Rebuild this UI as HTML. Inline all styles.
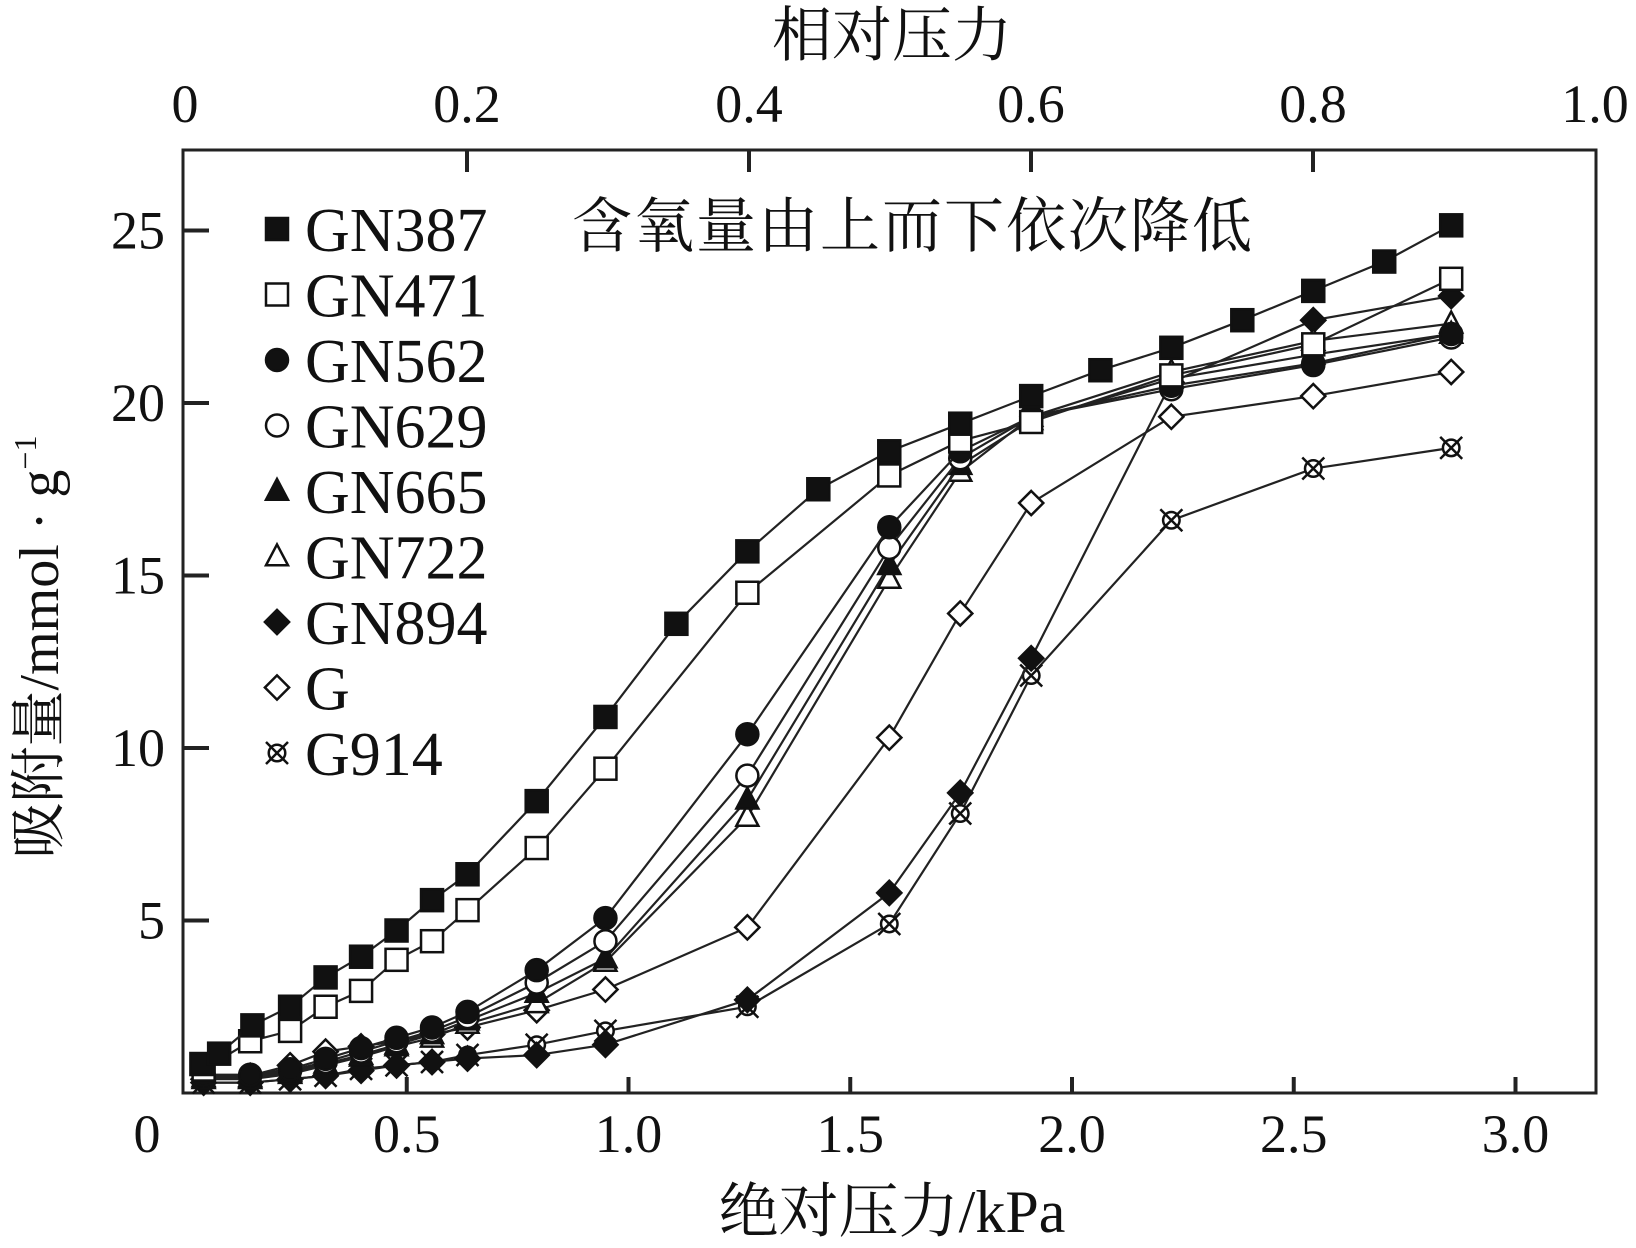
<!DOCTYPE html>
<html><head><meta charset="utf-8">
<style>
html,body{margin:0;padding:0;background:#fff;}
svg{display:block;}
text{font-family:"Liberation Serif","Noto Serif CJK SC",serif;fill:#111;}
.cjk{font-family:"Liberation Serif","Noto Serif CJK SC","Noto Sans CJK SC",serif;}
</style></head>
<body>
<svg id="chart" width="1636" height="1248" viewBox="0 0 1636 1248" xmlns="http://www.w3.org/2000/svg">
<rect x="183" y="150" width="1413" height="943" fill="none" stroke="#222" stroke-width="3"/>
<g id="axes"></g>
<g id="series"></g>
<g id="legend"></g>
<text x="892" y="56" font-size="60" text-anchor="middle" class="cjk">相对压力</text>
<text x="892" y="1232" font-size="60" text-anchor="middle" class="cjk">绝对压力/kPa</text>
<text transform="translate(58,647) rotate(-90)" font-size="56" text-anchor="middle" class="cjk">吸附量/mmol · g<tspan dy="-22" font-size="32">−1</tspan></text>
<text x="572" y="247" font-size="60" letter-spacing="2" class="cjk">含氧量由上而下依次降低</text>
</svg>
<script>
const xTicks=[0.5,1.0,1.5,2.0,2.5,3.0];
const xTickLabels=["0.5","1.0","1.5","2.0","2.5","3.0"];
const yTicks=[5,10,15,20,25];
const yTickLabels=["5","10","15","20","25"];
const topTicks=[0.2,0.4,0.6,0.8];
const topTickLabels=["0","0.2","0.4","0.6","0.8","1.0"];
const topTickLabelVals=[0,0.2,0.4,0.6,0.8,1.0];
const seriesNames=["GN387","GN471","GN562","GN629","GN665","GN722","GN894","G","G914"];
const markerTypes=["sqf","sqo","cf","co","tf","to","df","do","x"];
const x387=[0.037,0.077,0.152,0.237,0.317,0.397,0.477,0.557,0.637,0.793,0.948,1.108,1.268,1.428,1.588,1.748,1.908,2.064,2.224,2.384,2.544,2.704,2.855];
const y387=[0.84,1.14,1.96,2.5,3.35,3.95,4.71,5.59,6.34,8.46,10.9,13.6,15.7,17.5,18.6,19.4,20.2,20.95,21.6,22.4,23.25,24.1,25.15];
const xGrid=[0.042,0.147,0.237,0.317,0.397,0.477,0.557,0.637,0.793,0.948,1.268,1.588,1.748,1.908,2.224,2.544,2.855];
const y471=[0.68,1.5,1.8,2.5,2.96,3.86,4.4,5.3,7.1,9.4,14.5,17.9,18.9,19.45,20.8,21.7,23.6];
const y562=[0.53,0.53,0.69,0.99,1.3,1.6,1.9,2.35,3.56,5.07,10.4,16.4,18.6,19.6,20.5,21.15,22.0];
const y629=[0.5,0.5,0.65,0.9,1.2,1.5,1.8,2.2,3.2,4.4,9.2,15.8,18.4,19.6,20.4,21.1,21.9];
const y665=[0.45,0.45,0.6,0.85,1.1,1.4,1.7,2.1,2.9,3.9,8.5,15.3,18.2,19.5,20.7,21.4,22.0];
const y722=[0.4,0.4,0.55,0.8,1.05,1.35,1.6,2.0,2.6,3.8,8.0,14.9,18.0,19.6,20.9,21.8,22.3];
const y894=[0.3,0.3,0.4,0.5,0.65,0.8,0.9,1.0,1.1,1.4,2.7,5.8,8.7,12.6,20.6,22.4,23.1];
const yG=[0.4,0.5,0.8,1.2,1.35,1.5,1.7,1.9,2.4,3.0,4.8,10.3,13.9,17.1,19.6,20.2,20.9];
const y914=[0.3,0.3,0.4,0.5,0.7,0.8,0.9,1.1,1.4,1.8,2.5,4.9,8.1,12.1,16.6,18.1,18.7];

const NS="http://www.w3.org/2000/svg";
const X0=185,XS=443.5,Y0=1093,YS=34.5,TX0=185,TXS=1410,TOP=150,BOT=1093,LEFT=183;
const sx=v=>X0+v*XS, sy=v=>Y0-v*YS, stx=v=>TX0+v*TXS;
function el(tag,attrs,parent){const e=document.createElementNS(NS,tag);for(const k in attrs)e.setAttribute(k,attrs[k]);parent.appendChild(e);return e;}
const axes=document.getElementById('axes');
xTicks.forEach((v,i)=>{
  const t=el('line',{x1:sx(v),x2:sx(v),y1:BOT,y2:BOT-16,stroke:'#222','stroke-width':4},axes);
  
  
  const l=el('text',{x:sx(v),y:1152,'font-size':54,'text-anchor':'middle'},axes);
  l.textContent=xTickLabels[i];
  
  
});
const z=el('text',{x:147,y:1152,'font-size':54,'text-anchor':'middle'},axes);
z.textContent="0";


yTicks.forEach((v,i)=>{
  const t=el('line',{x1:LEFT,x2:LEFT+26,y1:sy(v),y2:sy(v),stroke:'#222','stroke-width':4},axes);
  
  
  const l=el('text',{x:165,y:sy(v)+18,'font-size':54,'text-anchor':'end'},axes);
  l.textContent=yTickLabels[i];
  
  
});
topTicks.forEach(v=>{
  const t=el('line',{x1:stx(v),x2:stx(v),y1:TOP,y2:TOP+22,stroke:'#222','stroke-width':4},axes);
  
  
});
topTickLabelVals.forEach((v,i)=>{
  const l=el('text',{x:stx(v),y:122,'font-size':54,'text-anchor':'middle'},axes);
  l.textContent=topTickLabels[i];
  
  
});
function marker(type,cx,cy,g,s){
  s=s||12;
  const fill=type.endsWith('f')?'#111':'#fff';
  let m;
  if(type.startsWith('sq')) m=el('rect',{x:cx-s,y:cy-s,width:2*s,height:2*s,fill:fill,stroke:'#111','stroke-width':2.5},g);
  else if(type.startsWith('c')) m=el('circle',{cx:cx,cy:cy,r:s,fill:fill,stroke:'#111','stroke-width':2.5},g);
  else if(type.startsWith('t')) m=el('polygon',{points:`${cx},${cy-s*1.1} ${cx+s},${cy+s*0.8} ${cx-s},${cy+s*0.8}`,fill:fill,stroke:'#111','stroke-width':2.5},g);
  else if(type.startsWith('d')) m=el('polygon',{points:`${cx},${cy-s*1.1} ${cx+s*1.1},${cy} ${cx},${cy+s*1.1} ${cx-s*1.1},${cy}`,fill:fill,stroke:'#111','stroke-width':2.5},g);
  else { m=el('g',{},g);
    el('circle',{cx:cx,cy:cy,r:s*0.75,fill:'#fff',stroke:'#111','stroke-width':2.5},m);
    el('path',{d:`M${cx-s} ${cy-s}L${cx+s} ${cy+s}M${cx+s} ${cy-s}L${cx-s} ${cy+s}`,stroke:'#111','stroke-width':2.5},m);
  }
  return m;
}
const allX=[x387,xGrid,xGrid,xGrid,xGrid,xGrid,xGrid,xGrid,xGrid];
const allY=[y387,y471,y562,y629,y665,y722,y894,yG,y914];
const sg=document.getElementById('series');
for(let i=allY.length-1;i>=0;i--){
  const g=el('g',{},sg);
  
  
  const pts=allX[i].map((x,j)=>sx(x)+','+sy(allY[i][j])).join(' ');
  const pl=el('polyline',{points:pts,fill:'none',stroke:'#222','stroke-width':2.2},g);
  
  
  allX[i].forEach((x,j)=>{
    const m=marker(markerTypes[i],sx(x),sy(allY[i][j]),g,11);
    
    
  });
}
const lg=document.getElementById('legend');
seriesNames.forEach((n,i)=>{
  const cy=229+i*65.5;
  const g=el('g',{},lg);
  
  
  marker(markerTypes[i],277,cy,g,11);
  const t=el('text',{x:305,y:cy+22,'font-size':62},g);
  t.textContent=n;
});
</script>
</body></html>
